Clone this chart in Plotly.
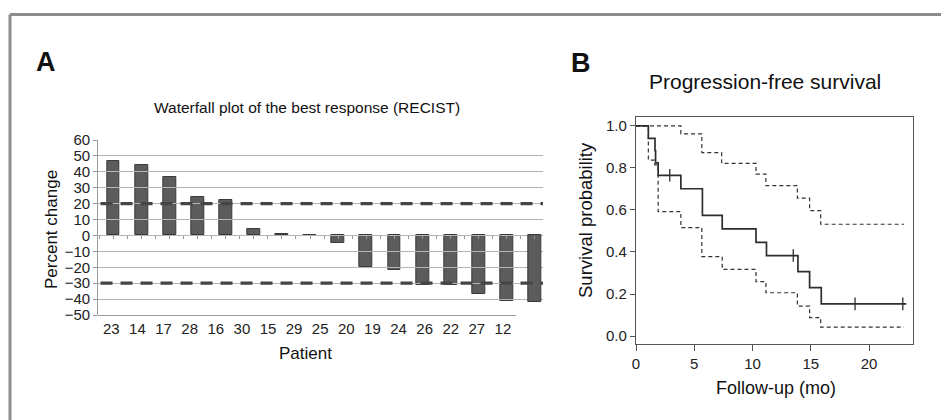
import plotly.graph_objects as go

# ---------------- data ----------------
patients = ["23", "14", "17", "28", "16", "30", "15", "29", "25", "20", "19", "24", "26", "22", "27", "12"]
pct_change = [47, 44, 37, 24, 22, 4, 1, 0, -5, -20, -22, -31, -31, -37, -41, -42]
recist_thresholds = [20, -30]
pct_ticks = [60, 50, 40, 30, 20, 10, 0, -10, -20, -30, -40, -50]

km_time = [0, 1.06, 1.63, 1.68, 1.9, 3.85, 5.7, 7.4, 10.3, 11.2, 13.9, 14.9, 15.9, 23.2]
km_surv = [1.0, 0.941, 0.882, 0.824, 0.765, 0.701, 0.574, 0.510, 0.446, 0.383, 0.306, 0.230, 0.153, 0.153]
upper_time = [0, 3.85, 5.65, 7.35, 10.3, 11.15, 13.85, 14.9, 15.85, 23.0]
upper_surv = [1.0, 0.962, 0.873, 0.822, 0.771, 0.716, 0.656, 0.597, 0.532, 0.532]
lower_time = [0, 1.06, 1.6, 1.9, 3.85, 5.65, 7.4, 10.3, 11.15, 13.85, 14.9, 15.85, 23.0]
lower_surv = [1.0, 0.837, 0.815, 0.592, 0.516, 0.378, 0.317, 0.259, 0.206, 0.142, 0.088, 0.042, 0.042]
censor_time = [2.9, 13.5, 18.8, 22.9]
censor_surv = [0.765, 0.383, 0.153, 0.153]
km_xticks = [0, 5, 10, 15, 20]
km_yticks = [0.0, 0.2, 0.4, 0.6, 0.8, 1.0]

# ---------------- layout helpers ----------------
W, H = 941, 420
FONT = "Liberation Sans, Arial, sans-serif"
INK = "#222222"


def fx(px):
    return px / W


def fy(py):
    return 1 - py / H


idx = list(range(len(patients)))

fig = go.Figure()

# Waterfall bars
fig.add_trace(go.Bar(
    x=idx, y=pct_change, width=0.46,
    marker=dict(color="#5c5c5c", line=dict(color="#3a3a3a", width=1)),
    xaxis="x", yaxis="y", showlegend=False, hoverinfo="skip",
))
# invisible trace carrying the patient label axis
fig.add_trace(go.Scatter(
    x=idx, y=pct_change, mode="markers", marker=dict(opacity=0),
    xaxis="x3", yaxis="y", showlegend=False, hoverinfo="skip",
))

# KM curves
dash_line = dict(color="#333333", width=1.2, dash="4px,3px", shape="hv")
fig.add_trace(go.Scatter(x=upper_time, y=upper_surv, mode="lines", line=dash_line,
                         xaxis="x2", yaxis="y2", showlegend=False, hoverinfo="skip"))
fig.add_trace(go.Scatter(x=lower_time, y=lower_surv, mode="lines", line=dash_line,
                         xaxis="x2", yaxis="y2", showlegend=False, hoverinfo="skip"))
fig.add_trace(go.Scatter(x=km_time, y=km_surv, mode="lines",
                         line=dict(color="#2e2e2e", width=1.7, shape="hv"),
                         xaxis="x2", yaxis="y2", showlegend=False, hoverinfo="skip"))
fig.add_trace(go.Scatter(x=censor_time, y=censor_surv, mode="markers",
                         marker=dict(symbol="line-ns", size=9,
                                     line=dict(color="#2e2e2e", width=1.3)),
                         xaxis="x2", yaxis="y2", showlegend=False, hoverinfo="skip"))

# ---------------- axes ----------------
px_per_cat = 28.1
first_center = 113.3
x_left, x_right = 98.3, 543
xr0 = -(first_center - x_left) / px_per_cat
xr1 = (x_right - first_center) / px_per_cat

y_dom = [fy(315), fy(140)]
y_rng = [-50, 60]
zero_pos = y_dom[0] + (0 - y_rng[0]) / (y_rng[1] - y_rng[0]) * (y_dom[1] - y_dom[0])

fig.update_layout(
    width=W, height=H, autosize=False,
    margin=dict(l=0, r=0, t=0, b=0, pad=0, autoexpand=False),
    paper_bgcolor="white", plot_bgcolor="rgba(0,0,0,0)",
    font=dict(family=FONT, color=INK),
    bargap=0,
    xaxis=dict(domain=[fx(x_left), fx(x_right)], range=[xr0, xr1], automargin=False,
               anchor="free", position=zero_pos,
               showgrid=False, zeroline=False, showline=False,
               showticklabels=False, tick0=-0.5, dtick=0.5,
               ticks="outside", ticklen=3, tickcolor="#9a9a9a", tickwidth=1),
    yaxis=dict(domain=y_dom, range=y_rng, anchor="x", automargin=False,
               tickvals=pct_ticks,
               ticktext=[str(v).replace("-", "\u2212") for v in pct_ticks],
               showgrid=True, gridcolor="#b4b4b4", gridwidth=1,
               zeroline=False, showline=True, linecolor="#9a9a9a", linewidth=1.2,
               ticks="outside", ticklen=4, tickcolor="#9a9a9a",
               tickfont=dict(size=15, color=INK)),
    xaxis3=dict(domain=[fx(x_left), fx(516)], range=[-0.5, len(patients) - 0.5],
                anchor="free", position=y_dom[0], automargin=False,
                tickvals=idx, ticktext=patients, ticks="",
                showgrid=False, zeroline=False, showline=True,
                linecolor="#9a9a9a", linewidth=1.2,
                tickfont=dict(size=15, color=INK)),
    xaxis2=dict(domain=[fx(636), fx(913.3)], range=[0, 23.8], anchor="y2", automargin=False,
                tickvals=km_xticks, showgrid=False, zeroline=False,
                showline=True, mirror=True, linecolor="#555555", linewidth=1.3,
                ticks="outside", ticklen=6, tickcolor="#555555", tickwidth=1.3,
                tickfont=dict(size=15, color=INK)),
    yaxis2=dict(domain=[fy(344), fy(117.3)], range=[-0.038, 1.041], anchor="x2", automargin=False,
                tickvals=km_yticks, tickformat=".1f", showgrid=False, zeroline=False,
                showline=True, mirror=True, linecolor="#555555", linewidth=1.3,
                ticks="outside", ticklen=5, tickcolor="#555555", tickwidth=1.3,
                tickfont=dict(size=15, color=INK)),
)

# RECIST threshold dashed lines
for thr in recist_thresholds:
    fig.add_shape(type="line", xref="x domain", yref="y", x0=0.005, x1=1, y0=thr, y1=thr,
                  line=dict(color="#454545", width=3.2, dash="12px,8px"))

# Figure frame (top and left grey border)
frame = dict(color="#8c8c8c", width=3)
fig.add_shape(type="line", xref="paper", yref="paper", x0=fx(10), x1=1, y0=fy(14.5), y1=fy(14.5), line=frame)
fig.add_shape(type="line", xref="paper", yref="paper", x0=fx(10), x1=fx(10), y0=fy(14.5), y1=0, line=frame)


def note(text, x, y, size, bold=False, angle=0):
    fig.add_annotation(text=f"<b>{text}</b>" if bold else text,
                       xref="paper", yref="paper", x=fx(x), y=fy(y),
                       xanchor="center", yanchor="middle", showarrow=False,
                       textangle=angle, font=dict(family=FONT, size=size, color="#111111"))


note("A", 46, 62, 27, bold=True)
note("B", 581, 63, 27, bold=True)
note("Waterfall plot of the best response (RECIST)", 307, 107, 15.5)
note("Progression-free survival", 765, 82, 21)
note("Percent change", 51, 230, 17, angle=-90)
note("Patient", 305, 353, 17)
note("Survival probability", 585, 220, 18.5, angle=-90)
note("Follow-up (mo)", 776, 388, 18)

fig.write_html(
    "out.html",
    config={"displayModeBar": False},
    post_script="document.body.style.margin='0';document.body.style.overflow='hidden';",
)
